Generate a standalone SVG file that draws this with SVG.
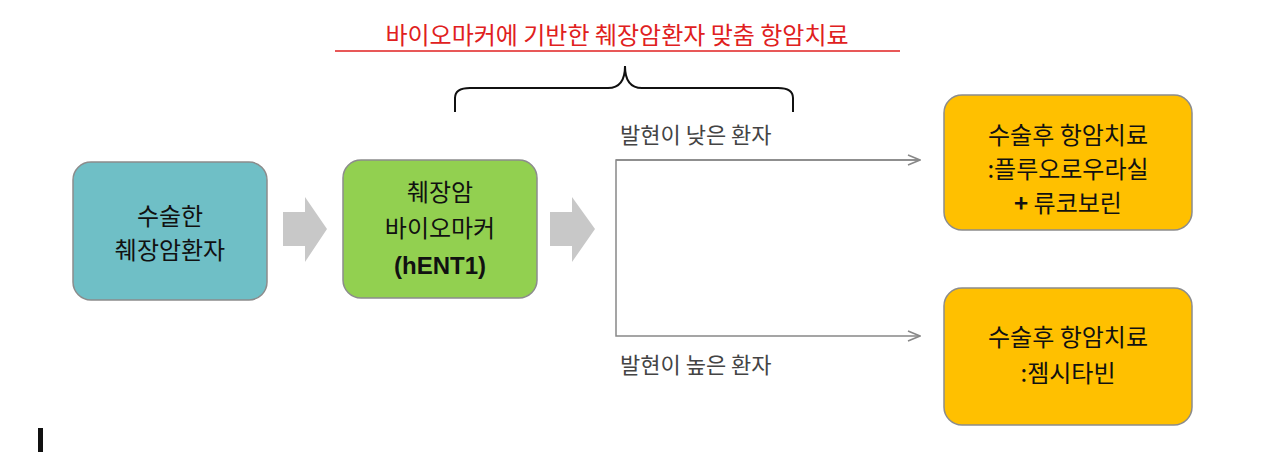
<svg xmlns="http://www.w3.org/2000/svg" width="1280" height="454" viewBox="0 0 1280 454">
<style>
text{font-family:"Noto Sans CJK KR","Liberation Sans",sans-serif;text-anchor:middle;}
.n{font-size:24px;fill:#111;}
.l{font-size:22px;fill:#444;text-anchor:start;}
.box{stroke:#8c8c8c;stroke-width:1.5;}
.blk{fill:#c8c8c8;}
</style>
<defs>
<marker id="ah" markerWidth="14" markerHeight="12" refX="13" refY="6" orient="auto" markerUnits="userSpaceOnUse">
<path d="M1,1 L13,6 L1,11" fill="none" stroke="#888" stroke-width="1.5"/>
</marker>
</defs>
<rect width="1280" height="454" fill="#fff"/>
<rect x="38" y="428" width="5" height="24" fill="#111"/>
<g id="title">
<text x="617" y="44" style="font-size:24px;fill:#e02020">바이오마커에 기반한 췌장암환자 맞춤 항암치료</text>
<line x1="335" y1="51" x2="900" y2="51" stroke="#e02020" stroke-width="1.5"/>
<path d="M455,112 V98 Q455,88 470,88 H608 Q625,88 625,66 Q625,88 642,88 H778 Q793,88 793,98 V112" fill="none" stroke="#111" stroke-width="2"/>
</g>
<g id="n1"><rect class="box" x="73" y="162" width="194" height="138" rx="18" fill="#6fbfc6"/>
<text class="n" x="170" y="225">수술한</text><text class="n" x="170" y="259">췌장암환자</text></g>
<g id="a1"><path class="blk" d="M283,212 H305 V197 L327,229 L305,262 V246 H283 Z"/></g>
<g id="n2"><rect class="box" x="343" y="160" width="194" height="138" rx="18" fill="#92d050"/>
<text class="n" x="440" y="201">췌장암</text><text class="n" x="440" y="237">바이오마커</text><text class="n" x="440" y="274" style="font-weight:bold;font-family:'Liberation Sans',sans-serif">(hENT1)</text></g>
<g id="a2"><path class="blk" d="M550,212 H572 V197 L595,229 L572,262 V246 H550 Z"/></g>
<g id="connectors" fill="none" stroke="#888" stroke-width="1.5">
<path d="M920,160 H616 V336 H920" marker-end="url(#ah)"/>
<path d="M616,160 H920" marker-end="url(#ah)"/>
</g>
<text class="l" x="620" y="143">발현이 낮은 환자</text>
<text class="l" x="620" y="373">발현이 높은 환자</text>
<g id="n3"><rect class="box" x="944" y="95" width="248" height="135" rx="18" fill="#ffc000"/>
<text class="n" x="1068" y="144">수술후 항암치료</text><text class="n" x="1068" y="178">:플루오로우라실</text><text class="n" x="1068" y="212"><tspan font-weight="bold">+</tspan> 류코보린</text></g>
<g id="n4"><rect class="box" x="944" y="288" width="248" height="137" rx="18" fill="#ffc000"/>
<text class="n" x="1068" y="346">수술후 항암치료</text><text class="n" x="1068" y="382">:젬시타빈</text></g>
</svg>
